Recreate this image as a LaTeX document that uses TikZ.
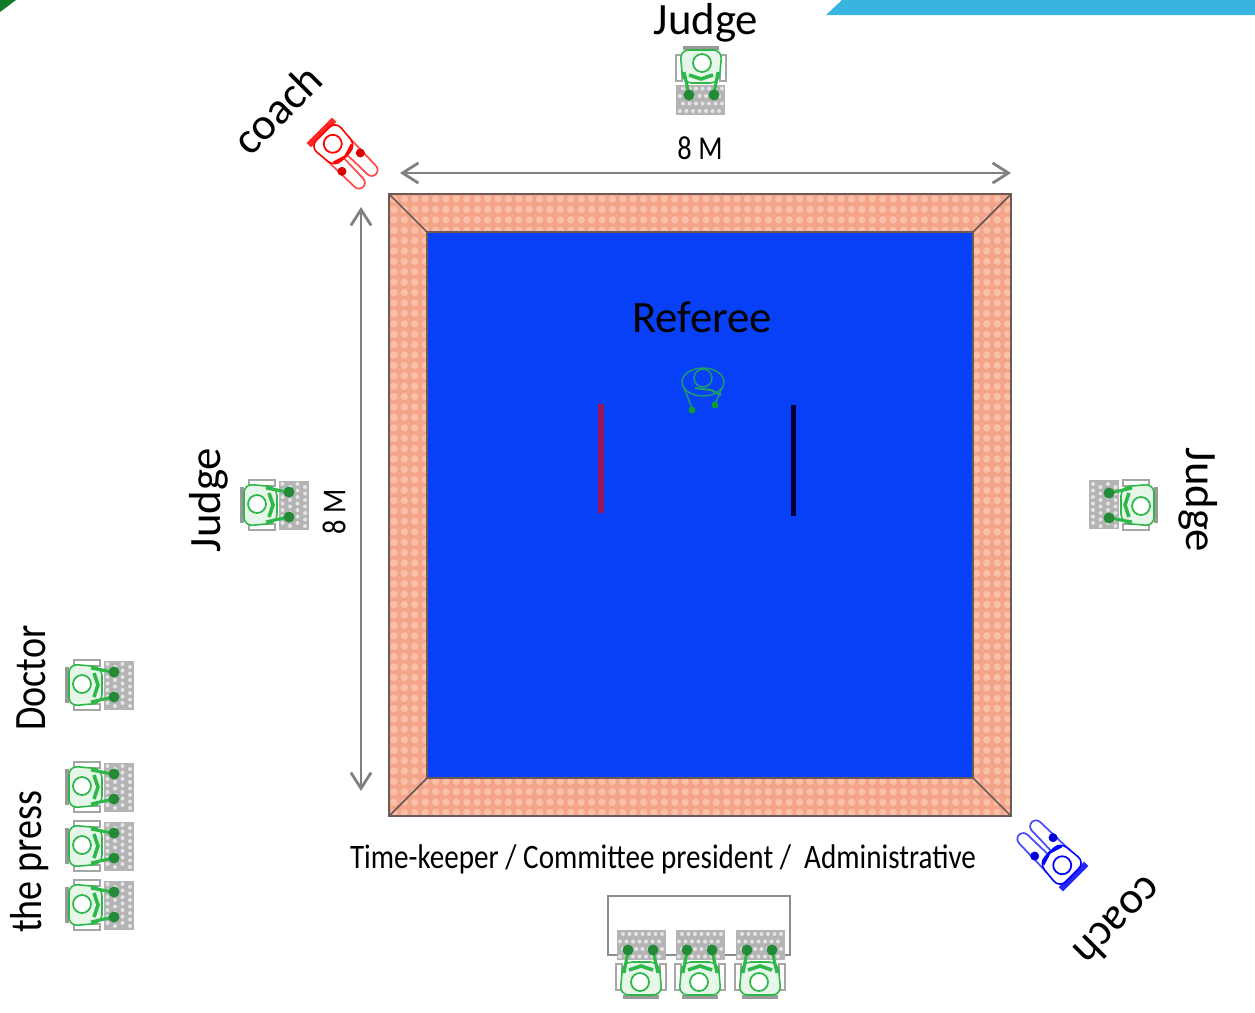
\documentclass[tikz,border=0pt]{standalone}
\usepackage{fontspec}
\setmainfont{Carlito}
\newfontfamily\narrowfont[FakeStretch=.85]{Carlito}
\usetikzlibrary{arrows.meta}
\definecolor{matsalmon}{HTML}{F4A488}
\definecolor{matdot}{HTML}{F9BFA8}
\definecolor{matline}{HTML}{6E5A55}
\definecolor{matblue}{HTML}{0840F8}
\definecolor{topbar}{HTML}{38B4E0}
\definecolor{seatgreen}{HTML}{2FB84A}
\definecolor{seatdark}{HTML}{129A35}
\definecolor{chairgrey}{HTML}{B4B4B4}
\definecolor{chairdot}{HTML}{E4E4E4}
\definecolor{refgreen}{HTML}{1E9C6A}
\newcommand{\seatbody}[1]{%
    \draw[line width=.7pt,draw=black!35,fill=white] (-25,-1) rectangle (-19,25);
    \draw[line width=.7pt,draw=black!35,fill=white] (19,-1) rectangle (25,25);
    \draw[line width=2.6pt,draw=black!40] (-18,32) -- (18,32);
    \draw[line width=.9pt,draw=#1,fill=#1!12,rounded corners=5pt] (-21,30) -- (21,30) -- (18,-3) -- (-18,-3) -- cycle;
    \draw[line width=1pt,draw=#1,fill=white] (1,17) circle (9);
    \draw[line width=2pt,draw=#1] (-12,5) -- (0,1) -- (12,5);
    \draw[line width=1.8pt,draw=#1] (-17,8) -- (-12,-14);
    \draw[line width=1.8pt,draw=#1] (17,8) -- (13,-14);
    \fill[#1!75!black] (-12,-15) circle (5.5);
    \fill[#1!75!black] (13,-15) circle (5.5);
}
\tikzset{
    bigtext/.style={font=\fontsize{25.5}{26}\selectfont,inner sep=0pt},
    narrowtext/.style={font=\narrowfont\fontsize{25.5}{26}\selectfont,inner sep=0pt},
    smalltext/.style={font=\narrowfont\fontsize{19}{20}\selectfont,inner sep=0pt},
    dim/.style={{Straight Barb[length=9pt,width=11.5pt]}-{Straight Barb[length=9pt,width=11.5pt]},line width=1.6pt,draw=black!50},
    matedge/.style={line width=1pt,draw=matline},
    seated/.pic={
        \tikzset{x=0.02cm,y=0.02cm}
        \fill[chairgrey] (-25,-35) rectangle (24,-5);
        \foreach \dx in {0,...,6}
            \foreach \dy in {0,...,3}
                \fill[chairdot] ({-21+6.5*\dx+3*mod(\dy,2)},{-31+7.5*\dy}) circle (2);
        \seatbody{seatgreen}
    },
    coachman/.pic={
        \tikzset{x=0.02cm,y=0.02cm}
        \foreach \lx in {-9,9} {
            \draw[line width=1pt,draw=#1!70,fill=white] (\lx-7,0) -- (\lx-6,-40) arc (180:360:6) -- (\lx+7,0) -- cycle;
        }
        \draw[line width=3.5pt,draw=#1!85] (-18,22) -- (18,22);
        \draw[line width=.9pt,draw=#1,fill=white,rounded corners=5pt] (-18,20) -- (18,20) -- (15,-12) -- (-15,-12) -- cycle;
        \draw[line width=1pt,draw=#1,fill=white] (0,6) circle (9);
        \draw[line width=1.5pt,draw=#1] (-13,-8) -- (0,-12) -- (13,-8);
        \fill[#1!85!black] (-13,-20) circle (4.5);
        \fill[#1!85!black] (13,-20) circle (4.5);
    },
    refereeman/.pic={
        \tikzset{x=0.02cm,y=0.02cm}
        \draw[line width=.8pt,draw=refgreen] (0,8) ellipse (21 and 14);
        \draw[line width=.8pt,draw=refgreen] (0,12) circle (9);
        \draw[line width=.8pt,draw=refgreen] (-19,2) -- (-11,-18);
        \draw[line width=.8pt,draw=refgreen] (19,2) -- (12,-14);
        \draw[line width=1.2pt,draw=refgreen] (-8,2) -- (8,0) -- (18,-5);
        \fill[seatdark] (-11,-20) circle (3.5);
        \fill[seatdark] (12,-15) circle (3.5);
    }
}
\begin{document}
\begin{tikzpicture}[x=0.02cm,y=-0.02cm]
    \useasboundingbox (0,0) rectangle (1255,1012);
    % corners of the page
    \fill[topbar] (826,15) -- (842,0) -- (1255,0) -- (1255,15) -- cycle;
    \fill[seatdark!80!black] (0,0) -- (16,0) -- (0,12) -- cycle;
    % mat
    \fill[matsalmon] (389,194) rectangle (1011,816);
    \begin{scope}
        \clip (389,194) rectangle (1011,816);
        \foreach \i in {0,...,59} {
            \foreach \j in {0,...,59} {
                \fill[matdot] ({394+10.4*\i},{199+10.4*\j}) circle (3.7);
            }
        }
    \end{scope}
    \fill[matblue] (427,232) rectangle (973,778);
    \draw[matedge] (389,194) rectangle (1011,816);
    \draw[matedge] (427,232) rectangle (973,778);
    \draw[matedge] (389,194) -- (427,232);
    \draw[matedge] (1011,194) -- (973,232);
    \draw[matedge] (389,816) -- (427,778);
    \draw[matedge] (1011,816) -- (973,778);
    % lines on the mat
    \fill[black!10!red!65!matblue] (598,404) rectangle (603.5,513);
    \fill[black!75!blue] (791,405) rectangle (796,516);
    % dimensions
    \coordinate (topl) at (400,173);
    \coordinate (topr) at (1011,173);
    \coordinate (sidet) at (361,207);
    \coordinate (sideb) at (361,791);
    \draw[dim] (topl) -- (topr);
    \draw[dim] (sidet) -- (sideb);
    \node[smalltext] (widthlabel) at (700,148) {8 M};
    \node[smalltext,rotate=90] (heightlabel) at (334,512) {8 M};
    % table
    \node[draw=black!45,line width=1pt,minimum width=3.64cm,minimum height=1.18cm,inner sep=0pt] (table) at (699,925.5) {};
    % people
    \pic (judgetop) at (701,80) {seated};
    \pic[rotate=90] (judgeleft) at (274,505) {seated};
    \pic[rotate=-90] (judgeright) at (1124,505) {seated};
    \pic[rotate=90] (doctor) at (99,685) {seated};
    \pic[rotate=90] (pressa) at (99,787) {seated};
    \pic[rotate=90] (pressb) at (99,846) {seated};
    \pic[rotate=90] (pressc) at (99,905) {seated};
    \pic[rotate=180] (timekeeper) at (641,965) {seated};
    \pic[rotate=180] (president) at (700,965) {seated};
    \pic[rotate=180] (admin) at (760,965) {seated};
    \pic[rotate=45] (coachred) at (337,148) {coachman=red};
    \pic[rotate=225] (coachblue) at (1058,861) {coachman=blue};
    \pic (referee) at (703,390) {refereeman};
    % labels
    \node[bigtext] (judgetoplabel) at (706,23) {Judge};
    \node[bigtext] (refereelabel) at (702,317) {Referee};
    \node[bigtext,rotate=90] (judgeleftlabel) at (209,500) {Judge};
    \node[bigtext,rotate=-90] (judgerightlabel) at (1198,500) {Judge};
    \node[bigtext,rotate=45] (coachredlabel) at (277,109) {coach};
    \node[bigtext,rotate=225] (coachbluelabel) at (1119,922) {coach};
    \node[narrowtext,rotate=90] (doctorlabel) at (31,678) {Doctor};
    \node[narrowtext,rotate=90] (presslabel) at (30,862) {the press};
    \node[smalltext,font=\narrowfont\fontsize{19.5}{20}\selectfont] (tablelabel) at (663,859) {Time-keeper / Committee president /~~Administrative};
\end{tikzpicture}
\end{document}
